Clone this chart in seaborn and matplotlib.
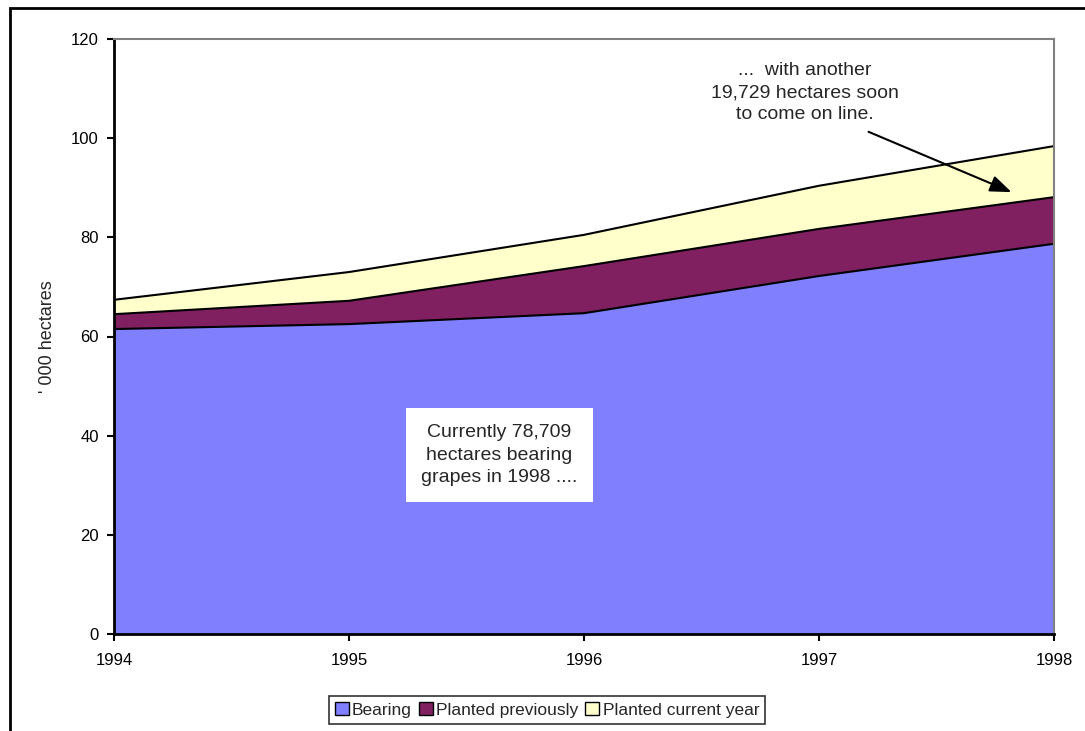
import matplotlib
matplotlib.use("Agg")
import matplotlib.pyplot as plt
import seaborn as sns
import numpy as np
from matplotlib.patches import Rectangle

# data ('000 hectares)
years = [1994, 1995, 1996, 1997, 1998]
bearing = [61.5, 62.5, 64.7, 72.2, 78.7]
planted_prev = [3.0, 4.7, 9.5, 9.5, 9.4]
planted_curr = [2.9, 5.8, 6.3, 8.7, 10.3]
series_names = ["Bearing", "Planted previously", "Planted current year"]
colors = ["#8080FF", "#802060", "#FFFFCC"]

sns.set_style("white")
plt.rcParams["font.family"] = ["Liberation Sans", "DejaVu Sans"]

fig = plt.figure(figsize=(10.85, 7.31), dpi=100)
ax = fig.add_axes([114 / 1085, 1 - 634 / 731, 940 / 1085, 595 / 731])

ax.stackplot(years, bearing, planted_prev, planted_curr, colors=colors,
             labels=series_names, edgecolor="none")

# black outlines on the top of each layer
cum = np.cumsum([bearing, planted_prev, planted_curr], axis=0)
for row in cum:
    sns.lineplot(x=years, y=row, ax=ax, color="black", linewidth=1.5, legend=False)

ax.set_xlim(1994, 1998)
ax.set_ylim(0, 120)
ax.set_xticks(years)
ax.set_xticklabels([str(y) for y in years])
ax.set_yticks(range(0, 121, 20))
ax.tick_params(axis="both", labelsize=12, direction="out", length=5, width=1.5,
               colors="black", bottom=True, left=True)
ax.tick_params(axis="x", pad=9)
ax.tick_params(axis="y", pad=6)
ax.set_ylabel("' 000 hectares", fontsize=13, labelpad=11)

for side in ["left", "bottom"]:
    ax.spines[side].set_color("black")
    ax.spines[side].set_linewidth(2)
for side in ["top", "right"]:
    ax.spines[side].set_color("#808080")
    ax.spines[side].set_linewidth(1.5)

ax.text(1995.64, 36.1, "Currently 78,709\nhectares bearing\ngrapes in 1998 ....",
        ha="center", va="center", fontsize=14, linespacing=1.45,
        bbox=dict(boxstyle="square,pad=0.8", fc="white", ec="none"))
ax.text(1996.94, 109.2, "...  with another\n19,729 hectares soon\nto come on line.",
        ha="center", va="center", fontsize=14, linespacing=1.4)
ax.annotate("", xy=(1997.83, 88.9), xytext=(1997.2, 101.5),
            arrowprops=dict(arrowstyle="-|>,head_length=1.3,head_width=0.5",
                            color="black", lw=1.5))

leg = fig.legend(loc="center", bbox_to_anchor=(547 / 1085, 1 - 710 / 731), ncol=3,
                 fontsize=12.5, frameon=True, fancybox=False, handlelength=0.8,
                 handleheight=0.8, handletextpad=0.2, columnspacing=0.4,
                 borderpad=0.35)
leg.get_frame().set_edgecolor("black")
leg.get_frame().set_linewidth(1.2)
for h in leg.legend_handles:
    h.set_edgecolor("black")
    h.set_linewidth(1)

# outer chart frame
fig.patches.append(Rectangle((10 / 1085, -0.05), 1.2, 1 - 8 / 731 + 0.05,
                             transform=fig.transFigure, fill=False,
                             ec="black", lw=2))

fig.savefig("out.png", dpi=100)
